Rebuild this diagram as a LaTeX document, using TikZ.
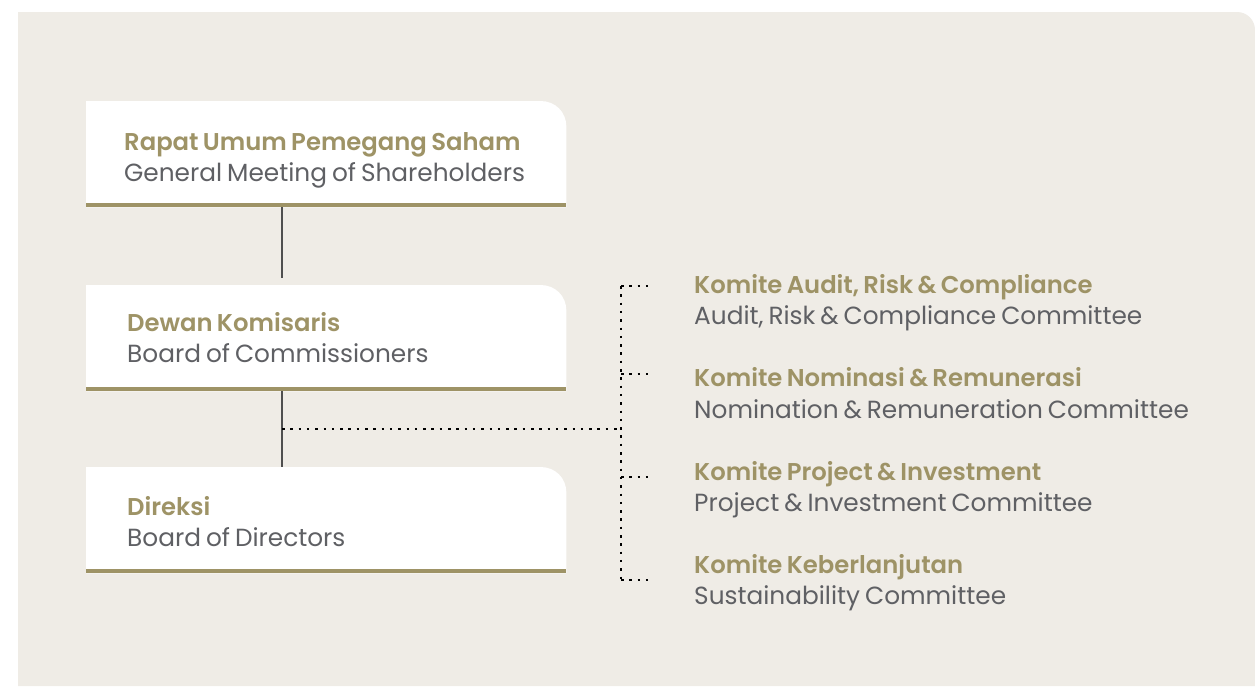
\documentclass[tikz,border=0pt]{standalone}
\usepackage{fontspec}
\setmainfont{Poppins}[WordSpace=0.75, BoldFont={Poppins SemiBold}]
\usetikzlibrary{calc}
\definecolor{panel}{HTML}{EFECE6}
\definecolor{gold}{HTML}{9E9366}
\definecolor{greytext}{HTML}{5F6064}
\definecolor{conn}{HTML}{4F4F4F}
\tikzset{
  boxnode/.style={anchor=north west, minimum width=480pt, minimum height=106pt, inner sep=0pt, draw=none},
  ttl/.style={anchor=base west, inner sep=0pt, text=gold, font=\fontsize{24.3}{28}\selectfont\bfseries},
  sub/.style={anchor=base west, inner sep=0pt, text=greytext, font=\fontsize{24.8}{28}\selectfont},
  solidconn/.style={draw=conn, line width=1.6pt},
  dotconn/.style={draw=black, line width=2.5pt, dash pattern=on 2.5pt off 5.8pt},
}
\begin{document}
\begin{tikzpicture}[x=1pt,y=-1pt]
\useasboundingbox (0,0) rectangle (1255,686);
\fill[white] (0,0) rectangle (1255,686);
\fill[panel] (18,686) -- (18,12) -- (1237,12) .. controls (1247,12) and (1255,20) .. (1255,30) -- (1255,686) -- cycle;

% boxes
\node[boxnode] (rups) at (86,101) {};
\node[boxnode] (dk) at (86,285) {};
\node[boxnode] (dir) at (86,467) {};
\foreach \n in {rups,dk,dir}{
  \fill[white] (\n.south west) -- (\n.north west) -- ([xshift=-26pt]\n.north east)
    .. controls ([xshift=-11pt]\n.north east) and ([yshift=-11pt]\n.north east) .. ([yshift=-26pt]\n.north east)
    -- (\n.south east) -- cycle;
  \fill[gold] (\n.south west) rectangle ([yshift=4.5pt]\n.south east);
}

% texts in boxes
\node[ttl] (rupsT) at (124,150) {Rapat Umum Pemegang Saham};
\node[sub] (rupsS) at (124,181) {General Meeting of Shareholders};
\node[ttl] (dkT) at (127,331) {Dewan Komisaris};
\node[sub] (dkS) at (127,362) {Board of Commissioners};
\node[ttl] (dirT) at (127,515) {Direksi};
\node[sub] (dirS) at (127,546) {Board of Directors};

% committees
\node[ttl] (c1T) at (694,293) {Komite Audit, Risk \& Compliance};
\node[sub] (c1S) at (694,324) {Audit, Risk \& Compliance Committee};
\node[ttl] (c2T) at (694,386) {Komite Nominasi \& Remunerasi};
\node[sub] (c2S) at (694,418) {Nomination \& Remuneration Committee};
\node[ttl] (c3T) at (694,480) {Komite Project \& Investment};
\node[sub] (c3S) at (694,511) {Project \& Investment Committee};
\node[ttl] (c4T) at (694,573) {Komite Keberlanjutan};
\node[sub] (c4S) at (694,604) {Sustainability Committee};

% connector coordinates
\coordinate (a1) at ($(rups.south west)+(196,0)$);
\coordinate (a2) at ($(dk.north west)+(196,-7)$);
\coordinate (b1) at ($(dk.south west)+(196,0)$);
\coordinate (b2) at ($(dir.north west)+(196,0)$);
\coordinate (j) at (282,429);
\coordinate (v) at (621,429);
\coordinate (vtop) at (621,286);
\coordinate (vbot) at (621,580);
\coordinate (e1) at (652,286);
\coordinate (e2) at (652,374);
\coordinate (e3) at (652,477);
\coordinate (e4) at (652,580);
\coordinate (v2) at (621,374);
\coordinate (v3) at (621,477);

\draw[solidconn] (a1) -- (a2);
\draw[solidconn] (b1) -- (b2);
\draw[dotconn] (j) -- (v);
\draw[dotconn] (vtop) -- (vbot);
\draw[dotconn] (vtop) -- (e1);
\draw[dotconn] (v2) -- (e2);
\draw[dotconn] (v3) -- (e3);
\draw[dotconn] (vbot) -- (e4);
\end{tikzpicture}
\end{document}
